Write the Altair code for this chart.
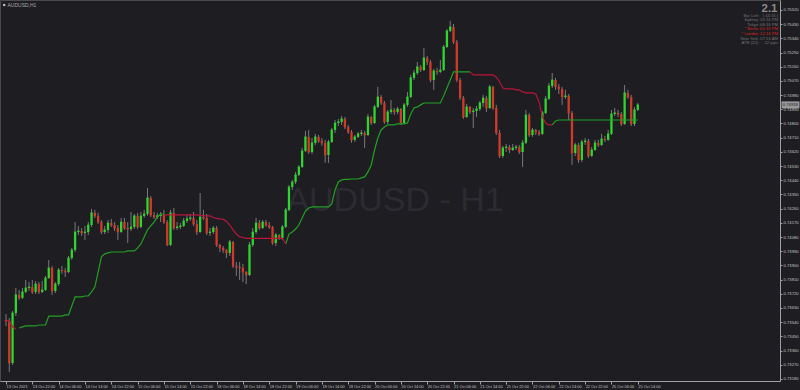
import altair as alt
import pandas as pd

# ---------------- data (AUDUSD H1, 13 Oct 14:00 -> 25 Oct 14:00) ----------------
open_ = [
0.73554, 0.73548, 0.73281, 0.73598, 0.73713, 0.73694, 0.73732, 0.73757, 0.73763, 0.73732,
0.73782, 0.73732, 0.73744, 0.73820, 0.73884, 0.73738, 0.73782, 0.73871, 0.73865, 0.73858,
0.73947, 0.73998, 0.74112, 0.74118, 0.74106, 0.74112, 0.74156, 0.74233, 0.74214, 0.74175,
0.74112, 0.74125, 0.74169, 0.74156, 0.74137, 0.74112, 0.74175, 0.74137, 0.74131, 0.74144,
0.74214, 0.74144, 0.74214, 0.74226, 0.74328, 0.74220, 0.74207, 0.74214, 0.74220, 0.74175,
0.74030, 0.74233, 0.74137, 0.74144, 0.74150, 0.74182, 0.74195, 0.74201, 0.74163, 0.74112,
0.74207, 0.74201, 0.74106, 0.74112, 0.74137, 0.74030, 0.74011, 0.73998, 0.73979, 0.74049,
0.73896, 0.73890, 0.73884, 0.73858, 0.73839, 0.74030, 0.74112, 0.74169, 0.74137, 0.74175,
0.74156, 0.74144, 0.74042, 0.74093, 0.74074, 0.74144, 0.74252, 0.74397, 0.74429, 0.74474,
0.74524, 0.74626, 0.74715, 0.74619, 0.74677, 0.74715, 0.74689, 0.74677, 0.74600, 0.74683,
0.74759, 0.74803, 0.74810, 0.74829, 0.74778, 0.74746, 0.74696, 0.74715, 0.74734, 0.74740,
0.74727, 0.74841, 0.74803, 0.74905, 0.74968, 0.74930, 0.74810, 0.74873, 0.74886, 0.74873,
0.74892, 0.74803, 0.74918, 0.74968, 0.75089, 0.75120, 0.75159, 0.75139, 0.75216, 0.75190,
0.75076, 0.75133, 0.75127, 0.75139, 0.75285, 0.75387, 0.75412, 0.75317, 0.75076, 0.74962,
0.74841, 0.74905, 0.74873, 0.74879, 0.74892, 0.74930, 0.74962, 0.74898, 0.75032, 0.74898,
0.74740, 0.74594, 0.74645, 0.74651, 0.74632, 0.74645, 0.74651, 0.74619, 0.74677, 0.74854,
0.74727, 0.74759, 0.74746, 0.74734, 0.74867, 0.74956, 0.75038, 0.75076, 0.75032, 0.75019,
0.74968, 0.74975, 0.74867, 0.74613, 0.74664, 0.74569, 0.74683, 0.74689, 0.74594, 0.74632,
0.74677, 0.74664, 0.74702, 0.74696, 0.74734, 0.74860, 0.74867, 0.74860, 0.74797, 0.74994,
0.74968, 0.74797, 0.74886,
]
high = [
0.73592, 0.73567, 0.73611, 0.73757, 0.73744, 0.73757, 0.73808, 0.73795, 0.73808, 0.73801,
0.73795, 0.73801, 0.73833, 0.73935, 0.73896, 0.73795, 0.73884, 0.73896, 0.73884, 0.73960,
0.74011, 0.74175, 0.74150, 0.74137, 0.74150, 0.74175, 0.74258, 0.74252, 0.74233, 0.74188,
0.74150, 0.74188, 0.74195, 0.74175, 0.74156, 0.74201, 0.74201, 0.74175, 0.74239, 0.74226,
0.74233, 0.74239, 0.74252, 0.74391, 0.74340, 0.74239, 0.74233, 0.74239, 0.74252, 0.74188,
0.74252, 0.74264, 0.74175, 0.74169, 0.74201, 0.74220, 0.74226, 0.74239, 0.74188, 0.74359,
0.74252, 0.74226, 0.74137, 0.74150, 0.74150, 0.74036, 0.74023, 0.74004, 0.74061, 0.74055,
0.73922, 0.73922, 0.73909, 0.73865, 0.74049, 0.74137, 0.74201, 0.74188, 0.74188, 0.74188,
0.74175, 0.74150, 0.74106, 0.74099, 0.74156, 0.74264, 0.74410, 0.74442, 0.74493, 0.74537,
0.74645, 0.74753, 0.74759, 0.74708, 0.74734, 0.74727, 0.74708, 0.74696, 0.74696, 0.74772,
0.74822, 0.74829, 0.74848, 0.74841, 0.74791, 0.74759, 0.74727, 0.74746, 0.74759, 0.74753,
0.74860, 0.74848, 0.74918, 0.75032, 0.74981, 0.74943, 0.74886, 0.74949, 0.74898, 0.74905,
0.74898, 0.74930, 0.75000, 0.75108, 0.75139, 0.75190, 0.75171, 0.75279, 0.75228, 0.75203,
0.75146, 0.75152, 0.75203, 0.75298, 0.75399, 0.75450, 0.75431, 0.75330, 0.75089, 0.74975,
0.74924, 0.74911, 0.74898, 0.74911, 0.74943, 0.74981, 0.74975, 0.75044, 0.75038, 0.74918,
0.74759, 0.74658, 0.74670, 0.74664, 0.74670, 0.74664, 0.74664, 0.74696, 0.74886, 0.74867,
0.74772, 0.74765, 0.74759, 0.74879, 0.74975, 0.75057, 0.75120, 0.75089, 0.75051, 0.75032,
0.75013, 0.74987, 0.74879, 0.74677, 0.74677, 0.74696, 0.74708, 0.74702, 0.74651, 0.74696,
0.74696, 0.74734, 0.74721, 0.74759, 0.74886, 0.74898, 0.74886, 0.74873, 0.75044, 0.75013,
0.74981, 0.74905, 0.74930,
]
low = [
0.73516, 0.73224, 0.73269, 0.73579, 0.73681, 0.73687, 0.73725, 0.73738, 0.73719, 0.73719,
0.73719, 0.73725, 0.73738, 0.73814, 0.73713, 0.73725, 0.73770, 0.73846, 0.73827, 0.73852,
0.73935, 0.73985, 0.74093, 0.74087, 0.74061, 0.74093, 0.74144, 0.74201, 0.74163, 0.74099,
0.74099, 0.74106, 0.74144, 0.74118, 0.74061, 0.74106, 0.74125, 0.74042, 0.74118, 0.74131,
0.74131, 0.74137, 0.74201, 0.74214, 0.74207, 0.74195, 0.74195, 0.74175, 0.74163, 0.74023,
0.74023, 0.74125, 0.74125, 0.74131, 0.74144, 0.74169, 0.74182, 0.74150, 0.74093, 0.74106,
0.74188, 0.74093, 0.74087, 0.74099, 0.74017, 0.73985, 0.73979, 0.73947, 0.73960, 0.73884,
0.73833, 0.73808, 0.73795, 0.73782, 0.73833, 0.74017, 0.74099, 0.74125, 0.74131, 0.74144,
0.74131, 0.74030, 0.74023, 0.74061, 0.74061, 0.74137, 0.74245, 0.74378, 0.74416, 0.74467,
0.74518, 0.74619, 0.74607, 0.74607, 0.74664, 0.74677, 0.74658, 0.74550, 0.74550, 0.74677,
0.74740, 0.74784, 0.74791, 0.74765, 0.74734, 0.74677, 0.74683, 0.74708, 0.74721, 0.74645,
0.74721, 0.74791, 0.74797, 0.74898, 0.74918, 0.74797, 0.74797, 0.74860, 0.74854, 0.74860,
0.74791, 0.74797, 0.74905, 0.74962, 0.75076, 0.75108, 0.75127, 0.75133, 0.75171, 0.75063,
0.75013, 0.75108, 0.75120, 0.75133, 0.75279, 0.75380, 0.75304, 0.75063, 0.74949, 0.74829,
0.74835, 0.74860, 0.74772, 0.74841, 0.74879, 0.74905, 0.74873, 0.74892, 0.74886, 0.74727,
0.74581, 0.74581, 0.74619, 0.74613, 0.74626, 0.74632, 0.74607, 0.74524, 0.74670, 0.74715,
0.74715, 0.74727, 0.74721, 0.74727, 0.74860, 0.74949, 0.75025, 0.75013, 0.74987, 0.74918,
0.74956, 0.74822, 0.74537, 0.74594, 0.74550, 0.74556, 0.74664, 0.74581, 0.74588, 0.74626,
0.74651, 0.74658, 0.74683, 0.74689, 0.74727, 0.74848, 0.74841, 0.74784, 0.74791, 0.74956,
0.74784, 0.74784, 0.74879,
]
close = [
0.73548, 0.73281, 0.73598, 0.73713, 0.73694, 0.73732, 0.73757, 0.73763, 0.73732, 0.73782,
0.73732, 0.73744, 0.73820, 0.73884, 0.73738, 0.73782, 0.73871, 0.73865, 0.73858, 0.73947,
0.73998, 0.74112, 0.74118, 0.74106, 0.74112, 0.74156, 0.74233, 0.74214, 0.74175, 0.74112,
0.74125, 0.74169, 0.74156, 0.74137, 0.74112, 0.74175, 0.74137, 0.74131, 0.74144, 0.74214,
0.74144, 0.74214, 0.74226, 0.74328, 0.74220, 0.74207, 0.74214, 0.74220, 0.74175, 0.74030,
0.74233, 0.74137, 0.74144, 0.74150, 0.74182, 0.74195, 0.74201, 0.74163, 0.74112, 0.74207,
0.74201, 0.74106, 0.74112, 0.74137, 0.74030, 0.74011, 0.73998, 0.73979, 0.74049, 0.73896,
0.73890, 0.73884, 0.73858, 0.73839, 0.74030, 0.74112, 0.74169, 0.74137, 0.74175, 0.74156,
0.74144, 0.74042, 0.74093, 0.74074, 0.74144, 0.74252, 0.74397, 0.74429, 0.74474, 0.74524,
0.74626, 0.74715, 0.74619, 0.74677, 0.74715, 0.74689, 0.74677, 0.74600, 0.74683, 0.74759,
0.74803, 0.74810, 0.74829, 0.74778, 0.74746, 0.74696, 0.74715, 0.74734, 0.74740, 0.74727,
0.74841, 0.74803, 0.74905, 0.74968, 0.74930, 0.74810, 0.74873, 0.74886, 0.74873, 0.74892,
0.74803, 0.74918, 0.74968, 0.75089, 0.75120, 0.75159, 0.75139, 0.75216, 0.75190, 0.75076,
0.75133, 0.75127, 0.75139, 0.75285, 0.75387, 0.75412, 0.75317, 0.75076, 0.74962, 0.74841,
0.74905, 0.74873, 0.74879, 0.74892, 0.74930, 0.74962, 0.74898, 0.75032, 0.74898, 0.74740,
0.74594, 0.74645, 0.74651, 0.74632, 0.74645, 0.74651, 0.74619, 0.74677, 0.74854, 0.74727,
0.74759, 0.74746, 0.74734, 0.74867, 0.74956, 0.75038, 0.75076, 0.75032, 0.75019, 0.74968,
0.74975, 0.74867, 0.74613, 0.74664, 0.74569, 0.74683, 0.74689, 0.74594, 0.74632, 0.74677,
0.74664, 0.74702, 0.74696, 0.74734, 0.74860, 0.74867, 0.74860, 0.74797, 0.74994, 0.74968,
0.74797, 0.74886, 0.74918,
]

# trailing-stop indicator: (first bar index, values)
red_segments = [
    (0, [0.73554, 0.73548, 0.73510, 0.73497]),
    (48, [0.74220, 0.74220, 0.74220, 0.74220, 0.74220, 0.74220, 0.74220, 0.74220, 0.74220, 0.74220,
          0.74220, 0.74217, 0.74215, 0.74214, 0.74214, 0.74204, 0.74198, 0.74195, 0.74193, 0.74179,
          0.74156, 0.74125, 0.74099, 0.74082, 0.74077, 0.74072, 0.74072, 0.74072, 0.74072, 0.74072,
          0.74072, 0.74072, 0.74072, 0.74072, 0.74072, 0.74072, 0.74072, 0.74036]),
    (141, [0.75127, 0.75108, 0.75108, 0.75108, 0.75108, 0.75108, 0.75108, 0.75108, 0.75095, 0.75063,
           0.75025, 0.75019, 0.75019, 0.75019, 0.75013, 0.75013, 0.75000, 0.74994, 0.74994, 0.74994,
           0.74987, 0.74937, 0.74841, 0.74803, 0.74791, 0.74791]),
]
green_segments = [
    (4, [0.73503, 0.73510, 0.73516, 0.73516, 0.73516, 0.73516, 0.73522, 0.73522, 0.73522, 0.73579,
         0.73579, 0.73579, 0.73579, 0.73579, 0.73586, 0.73586, 0.73643, 0.73700, 0.73700, 0.73700,
         0.73706, 0.73706, 0.73732, 0.73763, 0.73858, 0.73954, 0.73973, 0.73979, 0.73985, 0.73985,
         0.73985, 0.73985, 0.73985, 0.73992, 0.73992, 0.73992, 0.74011, 0.74036, 0.74080, 0.74125,
         0.74150, 0.74175, 0.74207, 0.74226, 0.74226]),
    (85, [0.74036, 0.74099, 0.74112, 0.74131, 0.74156, 0.74201, 0.74245, 0.74264, 0.74271, 0.74271,
          0.74271, 0.74271, 0.74271, 0.74271, 0.74290, 0.74378, 0.74429, 0.74442, 0.74445, 0.74445,
          0.74448, 0.74448, 0.74448, 0.74455, 0.74461, 0.74493, 0.74537, 0.74632, 0.74708, 0.74759,
          0.74778, 0.74791, 0.74791, 0.74791, 0.74797, 0.74797, 0.74797, 0.74803, 0.74860, 0.74898,
          0.74905, 0.74918, 0.74930, 0.74930, 0.74930, 0.74930, 0.74930, 0.74930, 0.74975, 0.75025,
          0.75076, 0.75127, 0.75127, 0.75127, 0.75127, 0.75127, 0.75127]),
    (166, [0.74791, 0.74816, 0.74822, 0.74822, 0.74822, 0.74822, 0.74822, 0.74822, 0.74822, 0.74822,
           0.74822, 0.74822, 0.74822, 0.74822, 0.74822, 0.74822, 0.74822, 0.74822, 0.74822, 0.74822,
           0.74822, 0.74822, 0.74822, 0.74822, 0.74822, 0.74822, 0.74822]),
]

x_tick_bars = [0, 8, 16, 24, 32, 40, 48, 56, 64, 72, 80, 88, 96, 104, 112, 120, 128, 136, 144,
               152, 160, 168, 176, 184, 192]
x_tick_labels = ["13 Oct 2021", "13 Oct 22:00", "14 Oct 06:00", "14 Oct 14:00", "14 Oct 22:00",
                 "15 Oct 06:00", "15 Oct 14:00", "15 Oct 22:00", "18 Oct 06:00", "18 Oct 14:00",
                 "18 Oct 22:00", "19 Oct 06:00", "19 Oct 14:00", "19 Oct 22:00", "20 Oct 06:00",
                 "20 Oct 14:00", "20 Oct 22:00", "21 Oct 06:00", "21 Oct 14:00", "21 Oct 22:00",
                 "22 Oct 06:00", "22 Oct 14:00", "22 Oct 22:00", "25 Oct 06:00", "25 Oct 14:00"]
y_ticks = [0.73180, 0.73270, 0.73360, 0.73450, 0.73540, 0.73630, 0.73720, 0.73810, 0.73900,
           0.73990, 0.74080, 0.74170, 0.74260, 0.74350, 0.74440, 0.74530, 0.74620, 0.74710,
           0.74800, 0.74890, 0.74980, 0.75070, 0.75160, 0.75250, 0.75340, 0.75430, 0.75520]

symbol_title = "AUDUSD,H1"
watermark = "AUDUSD - H1"
version_text = "2.1"
info_labels = ["Bar Left", "Sydney", "Tokyo", "* Berlin", "* London", "New York", "ATR (20)"]
info_values = ["[ 44:16 ]", "10:16 PM", "08:16 PM", "01:16 PM", "12:16 PM", "07:16 AM", "22 pips"]
info_colors = ["#737373", "#737373", "#737373", "#d8231c", "#d8231c", "#737373", "#737373"]

# ---------------- styling ----------------
BG = "#1d1d22"
UP = "#2ed62e"
DOWN = "#cf3a2a"
WICK = "#7a7a7a"
FONT = "Liberation Sans"

candles = pd.DataFrame({"bar": list(range(len(close))), "open": open_, "high": high,
                        "low": low, "close": close})
candles["dir"] = ["up" if c >= o else "down" for o, c in zip(open_, close)]

def seg_frame(segs, name):
    rows = []
    for k, (start, vals) in enumerate(segs):
        for j, v in enumerate(vals):
            rows.append({"bar": start + j, "value": v, "seg": f"{name}{k}"})
    return pd.DataFrame(rows)

red_df = seg_frame(red_segments, "r")
green_df = seg_frame(green_segments, "g")

label_array = "[" + ",".join("'" + s + "'" for s in x_tick_labels) + "]"

xscale = alt.Scale(domain=[-0.3, 233.7], nice=False, zero=False)
yscale = alt.Scale(domain=[0.73167, 0.75583], nice=False, zero=False)

x_axis = alt.Axis(values=x_tick_bars, labelExpr=label_array + "[round(datum.value/8)]",
                  orient="bottom", title=None, grid=False, labelAlign="left", labelBaseline="top",
                  labelFontSize=3.9, labelColor="#c4c4c4", labelFont=FONT, labelPadding=0,
                  tickSize=3, tickColor="#a0a0a0", domainColor="#a0a0a0",
                  labelFlush=False, labelOverlap=False, labelBound=False)
y_axis = alt.Axis(values=y_ticks, format=".5f", orient="right", title=None, grid=False,
                  labelFontSize=4.2, labelColor="#c4c4c4", labelFont=FONT, labelPadding=1,
                  tickSize=2, tickColor="#a0a0a0", domainColor="#a0a0a0",
                  labelFlush=False, labelOverlap=False, labelBound=False)

X = alt.X("bar:Q", scale=xscale, axis=x_axis)

def Y(field):
    return alt.Y(field, type="quantitative", scale=yscale, axis=y_axis)

one = pd.DataFrame({"t": [0]})

wm = alt.Chart(pd.DataFrame({"t": [watermark]})).mark_text(
    fontSize=34, font=FONT, color="#2b2b31", align="center", baseline="middle"
).encode(x=alt.value(395), y=alt.value(201), text="t:N")

wicks = alt.Chart(candles).mark_rule(color=WICK, strokeWidth=1).encode(
    x=X, y=Y("low"), y2="high:Q")

color_enc = alt.Color("dir:N", scale=alt.Scale(domain=["up", "down"], range=[UP, DOWN]), legend=None)

bodies = alt.Chart(candles).mark_bar(size=2.3).encode(
    x=X, y=Y("open"), y2="close:Q", color=color_enc)

closes_tick = alt.Chart(candles).mark_tick(orient="horizontal", size=2.3, thickness=1).encode(
    x=X, y=Y("close"), color=color_enc)

red_line = alt.Chart(red_df).mark_line(color="#b8163a", strokeWidth=1.2).encode(
    x=X, y=Y("value"), detail="seg:N")
green_line = alt.Chart(green_df).mark_line(color="#22a022", strokeWidth=1.2).encode(
    x=X, y=Y("value"), detail="seg:N")

last = candles.tail(1).copy()
last["txt"] = [f"{v:.5f}" for v in last["close"]]
price_box = alt.Chart(last).mark_tick(orient="horizontal", size=18, thickness=7, color="#cfcfcf").encode(
    x=alt.value(790.5), y=Y("close"))
price_txt = alt.Chart(last).mark_text(fontSize=4.2, font=FONT, color="#1a1a1a", align="left",
                                      baseline="middle").encode(
    x=alt.value(782.8), y=Y("close"), text="txt:N")

title_txt = alt.Chart(pd.DataFrame({"t": [symbol_title]})).mark_text(
    fontSize=5, font=FONT, color="#a9a9a9", align="left", baseline="middle"
).encode(x=alt.value(7.5), y=alt.value(5), text="t:N")
title_icon = alt.Chart(one).mark_square(size=5, color="#bdbdbd", opacity=1).encode(
    x=alt.value(4.2), y=alt.value(5))

ver = alt.Chart(pd.DataFrame({"t": [version_text]})).mark_text(
    fontSize=11.5, font=FONT, fontWeight="bold", color="#8a8a8a", align="right", baseline="alphabetic"
).encode(x=alt.value(777.5), y=alt.value(12), text="t:N")

info_layers = []
for k, (lab, val, col) in enumerate(zip(info_labels, info_values, info_colors)):
    yy = 15.6 + 4.6 * k
    d = pd.DataFrame({"l": [lab + " :"], "v": [val]})
    info_layers.append(alt.Chart(d).mark_text(fontSize=4.2, font=FONT, color=col, align="right",
                                              baseline="middle").encode(
        x=alt.value(760.5), y=alt.value(yy), text="l:N"))
    info_layers.append(alt.Chart(d).mark_text(fontSize=4.2, font=FONT, color=col, align="right",
                                              baseline="middle").encode(
        x=alt.value(778), y=alt.value(yy), text="v:N"))

chart = alt.layer(
    wm, wicks, bodies, closes_tick, green_line, red_line, price_box, price_txt,
    title_icon, title_txt, ver, *info_layers
).properties(
    width=780, height=381, autosize="none",
    padding={"left": 0, "top": 0, "right": 20, "bottom": 9},
    background=BG,
).configure_view(stroke="#4a4a4e", strokeWidth=1)

chart.save("out.html", embed_options={"renderer": "svg", "actions": False})
